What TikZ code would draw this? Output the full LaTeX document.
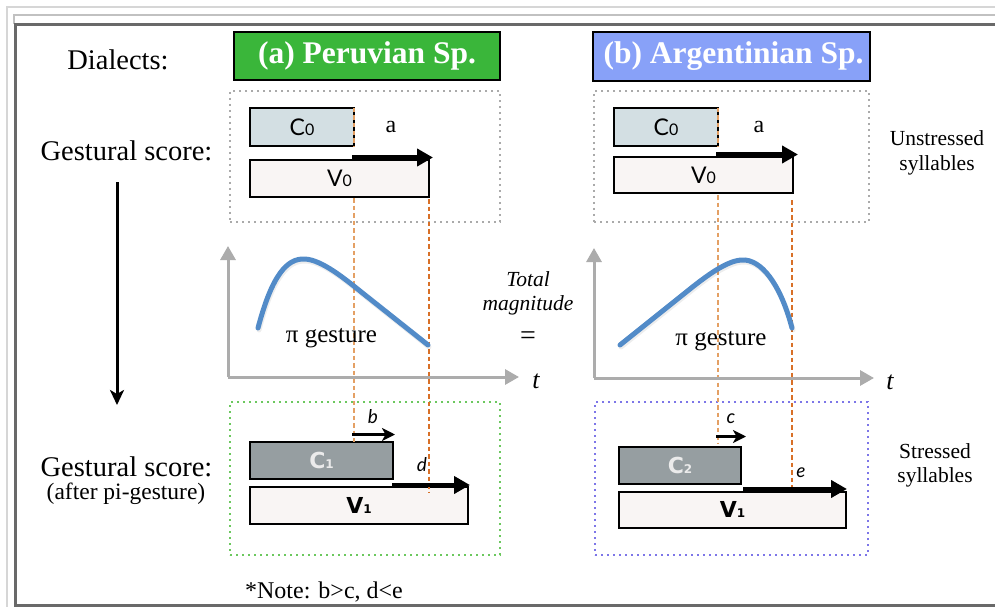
\documentclass[tikz,border=0pt]{standalone}
\usepackage{fontspec}
\setmainfont{Liberation Serif}
\newfontfamily\gill{Lato}
\newfontfamily\gillheavy{DejaVu Sans}
\usetikzlibrary{arrows.meta}
\definecolor{grnfill}{RGB}{58,182,58}
\definecolor{blufill}{RGB}{136,161,248}
\definecolor{cfill}{RGB}{211,223,227}
\definecolor{vfill}{RGB}{249,245,244}
\definecolor{cdarkfill}{RGB}{150,158,161}
\definecolor{dotgray}{RGB}{170,170,170}
\definecolor{dotgreen}{RGB}{108,200,95}
\definecolor{dotblue}{RGB}{125,118,232}
\definecolor{orgA}{RGB}{228,160,100}
\definecolor{orgB}{RGB}{216,112,40}
\definecolor{curveblue}{RGB}{82,139,200}
\definecolor{axisgray}{RGB}{172,172,172}
\definecolor{framelight}{RGB}{214,214,214}
\definecolor{framedark}{RGB}{105,105,105}
\tikzset{
  txt/.style={inner sep=0pt, outer sep=0pt, font=\fontsize{28.5}{32}\selectfont},
  smalltxt/.style={inner sep=0pt, outer sep=0pt, font=\fontsize{21.5}{24}\selectfont},
  titlebox/.style={draw=black, line width=2.5pt, inner sep=0pt, outer sep=0pt, text=white,
    font=\fontsize{31.5}{34}\selectfont\bfseries},
  dotbox/.style={draw=dotgray, line width=1.6pt, dash pattern=on 1.6pt off 4.4pt, inner sep=0pt, outer sep=0pt},
  cbox/.style={draw=black, line width=2pt, fill=cfill, inner sep=0pt, outer sep=0pt, font=\gill\fontsize{23}{26}\selectfont},
  vbox/.style={draw=black, line width=2pt, fill=vfill, inner sep=0pt, outer sep=0pt, font=\gill\fontsize{23}{26}\selectfont},
  cdark/.style={draw=black, line width=2pt, fill=cdarkfill, inner sep=0pt, outer sep=0pt, text=white!92!black,
    font=\gillheavy\bfseries\fontsize{22}{24}\selectfont},
  vbold/.style={vbox, font=\gillheavy\bfseries\fontsize{22}{24}\selectfont},
  thickarr/.style={line width=4.5pt, -{Triangle[length=16pt,width=17pt]}},
  thinarr/.style={line width=2.6pt, -{Stealth[length=13pt,width=13pt,inset=3.5pt]}},
  axisarr/.style={draw=axisgray, line width=3pt, -{Triangle[length=14pt,width=15pt]}},
  orgline/.style={line width=2pt, dash pattern=on 4.5pt off 3pt},
  gcurve/.style={draw=curveblue, line width=5pt, line cap=round},
  gshadow/.style={draw=black, opacity=0.07, line width=5pt, line cap=round},
  lettr/.style={inner sep=0pt, outer sep=0pt, font=\gill\itshape\fontsize{19}{21}\selectfont},
}
\begin{document}
\begin{tikzpicture}[x=1pt,y=-1pt]
\useasboundingbox (0,0) rectangle (995,607);
\fill[white] (0,0) rectangle (995,607);

% frame
\draw[framelight, line width=1.3pt] (7,607) -- (7,7) -- (995,7);
\draw[framelight!90!black, line width=2pt] (14,24) -- (14,15) -- (995,15);
\draw[framedark, line width=3pt] (995,24.3) -- (15.3,24.3) -- (15.3,605.5) -- (995,605.5);

% left texts
\node[txt, anchor=base] (dial) at (118,70) {Dialects:};
\node[txt, anchor=base] (gs1) at (126.5,160) {Gestural score:};
\node[txt, anchor=base] (gs2) at (126.5,476) {Gestural score:};
\node[inner sep=0pt, outer sep=0pt, font=\fontsize{23.5}{26}\selectfont, anchor=base] (after) at (126,499) {(after pi-gesture)};
\coordinate (vTop) at (117,182);
\coordinate (vBot) at (117,405);
\draw[line width=3pt, -{Stealth[length=15pt,width=14pt,inset=4pt]}] (vTop) -- (vBot);

% titles
\node[titlebox, fill=grnfill, minimum width=266pt, minimum height=48pt] (ta) at (367,56) {(a) Peruvian Sp.};
\node[titlebox, fill=blufill, minimum width=277pt, minimum height=49pt] (tb) at (731.5,56.5) {\hspace*{4pt}(b) Argentinian Sp.};

% dotted frames
\node[dotbox, minimum width=270pt, minimum height=131pt] (ua) at (365,156.5) {};
\node[dotbox, minimum width=275pt, minimum height=131pt] (ub) at (731.5,156.5) {};
\node[dotbox, draw=dotgreen, minimum width=270pt, minimum height=153pt] (sa) at (365,478.5) {};
\node[dotbox, draw=dotblue, minimum width=273pt, minimum height=153pt] (sb) at (731.5,478.5) {};

% upper boxes
\node[cbox, minimum width=104pt, minimum height=38pt] (c0a) at (302,127) {C{\fontsize{16}{16}\selectfont 0}};
\node[vbox, minimum width=179pt, minimum height=37pt] (v0a) at (339.5,178.5) {V{\fontsize{16}{16}\selectfont 0}};
\node[cbox, minimum width=104pt, minimum height=38pt] (c0b) at (666,127) {C{\fontsize{16}{16}\selectfont 0}};
\node[vbox, minimum width=179pt, minimum height=36pt] (v0b) at (703.5,175) {V{\fontsize{16}{16}\selectfont 0}};

% lower boxes
\node[cdark, minimum width=143pt, minimum height=37pt] (c1) at (321.5,460.5) {C{\fontsize{12}{12}\selectfont 1}};
\node[vbold, minimum width=218pt, minimum height=37pt] (v1a) at (359,505.5) {V{\fontsize{12}{12}\selectfont 1}};
\node[cdark, minimum width=122pt, minimum height=37pt] (c2) at (680,465.5) {C{\fontsize{12}{12}\selectfont 2}};
\node[vbold, minimum width=227pt, minimum height=36pt] (v1b) at (732.5,509.5) {V{\fontsize{12}{12}\selectfont 1}};

% orange alignment lines
\coordinate (oa1t) at (354,108); \coordinate (oa1m) at (354,146);
\coordinate (oa1s) at (354,198); \coordinate (oa1e) at (354,442);
\coordinate (oa2s) at (429,199); \coordinate (oa2e) at (429,492);
\coordinate (ob1t) at (718,108); \coordinate (ob1m) at (718,146);
\coordinate (ob1s) at (718,195); \coordinate (ob1e) at (718,443);
\coordinate (ob2s) at (792,200); \coordinate (ob2e) at (792,488);
\draw[orgline, orgA] (oa1t) -- (oa1m);
\draw[orgline, orgA] (oa1s) -- (oa1e);
\draw[orgline, orgB] (oa2s) -- (oa2e);
\draw[orgline, orgA] (ob1t) -- (ob1m);
\draw[orgline, orgA] (ob1s) -- (ob1e);
\draw[orgline, orgB] (ob2s) -- (ob2e);

% graph (a)
\coordinate (ga0) at (228,377);
\coordinate (gay) at (228,246);
\coordinate (gax) at (519,377);
\draw[axisarr] (ga0) -- (gay);
\draw[axisarr] (ga0) -- (gax);
\draw[gshadow] (259,330) .. controls (273,277) and (288,260) .. (306,261) .. controls (323,262) and (346,281) .. (361,293) -- (429,347);
\draw[gcurve] (258,328) .. controls (272,275) and (287,258) .. (305,259) .. controls (322,260) and (345,279) .. (360,291) -- (428,345);
\node[inner sep=0pt, font=\fontsize{25}{28}\selectfont, anchor=base] (pia) at (331.5,342) {π gesture};
\node[inner sep=0pt, font=\fontsize{26}{28}\selectfont\itshape] (ta2) at (536,381) {t};

% graph (b)
\coordinate (gb0) at (594,378);
\coordinate (gby) at (594,248);
\coordinate (gbx) at (874,378);
\draw[axisarr] (gb0) -- (gby);
\draw[axisarr] (gb0) -- (gbx);
\draw[gshadow] (621,347) -- (691,291) .. controls (716,271) and (733,261) .. (746,262) .. controls (766,264) and (783,292) .. (793,330);
\draw[gcurve] (620,345) -- (690,289) .. controls (715,269) and (732,259) .. (745,260) .. controls (765,262) and (782,290) .. (792,328);
\node[inner sep=0pt, font=\fontsize{25}{28}\selectfont, anchor=base] (pib) at (721,345) {π gesture};
\node[inner sep=0pt, font=\fontsize{26}{28}\selectfont\itshape] (tb2) at (890,382) {t};

% middle
\node[inner sep=0pt, font=\fontsize{21.5}{24}\selectfont\itshape] (tot) at (528,279) {Total};
\node[inner sep=0pt, font=\fontsize{21.5}{24}\selectfont\itshape] (mag) at (528,305) {magnitude};
\node[inner sep=0pt, font=\fontsize{28}{28}\selectfont] (eq) at (528,338) {=};

% arrows a
\coordinate (aS) at (352,157.5); \coordinate (aE) at (433,157.5);
\draw[thickarr] (aS) -- (aE);
\node[inner sep=0pt, font=\fontsize{24}{26}\selectfont] (la) at (391,127) {a};
\coordinate (bS) at (716,154.5); \coordinate (bE) at (798,154.5);
\draw[thickarr] (bS) -- (bE);
\node[inner sep=0pt, font=\fontsize{24}{26}\selectfont] (lb) at (759,127) {a};

% arrows b, d (panel a)
\coordinate (b1) at (352,434.5); \coordinate (b2) at (395,434.5);
\draw[thinarr] (b1) -- (b2);
\node[lettr] (lbb) at (373,417) {b};
\coordinate (d1) at (392,485); \coordinate (d2) at (470,485);
\draw[thickarr] (d1) -- (d2);
\node[lettr] (ldd) at (422,465) {d};

% arrows c, e (panel b)
\coordinate (c1s) at (716,436.5); \coordinate (c1e) at (746,436.5);
\draw[thinarr] (c1s) -- (c1e);
\node[lettr] (lcc) at (731,419) {c};
\coordinate (e1) at (743,489); \coordinate (e2) at (847,489);
\draw[thickarr] (e1) -- (e2);
\node[lettr] (lee) at (801,473) {e};

% right side
\node[smalltxt, anchor=base] (uns) at (937,146) {Unstressed};
\node[smalltxt, anchor=base] (syl1) at (937,170) {syllables};
\node[smalltxt, anchor=base] (str) at (935,458) {Stressed};
\node[smalltxt, anchor=base] (syl2) at (935,482) {syllables};

% note
\node[inner sep=0pt, font=\fontsize{24}{26}\selectfont, anchor=base] (note) at (324,598) {*Note: b>c, d<e};
\end{tikzpicture}
\end{document}
